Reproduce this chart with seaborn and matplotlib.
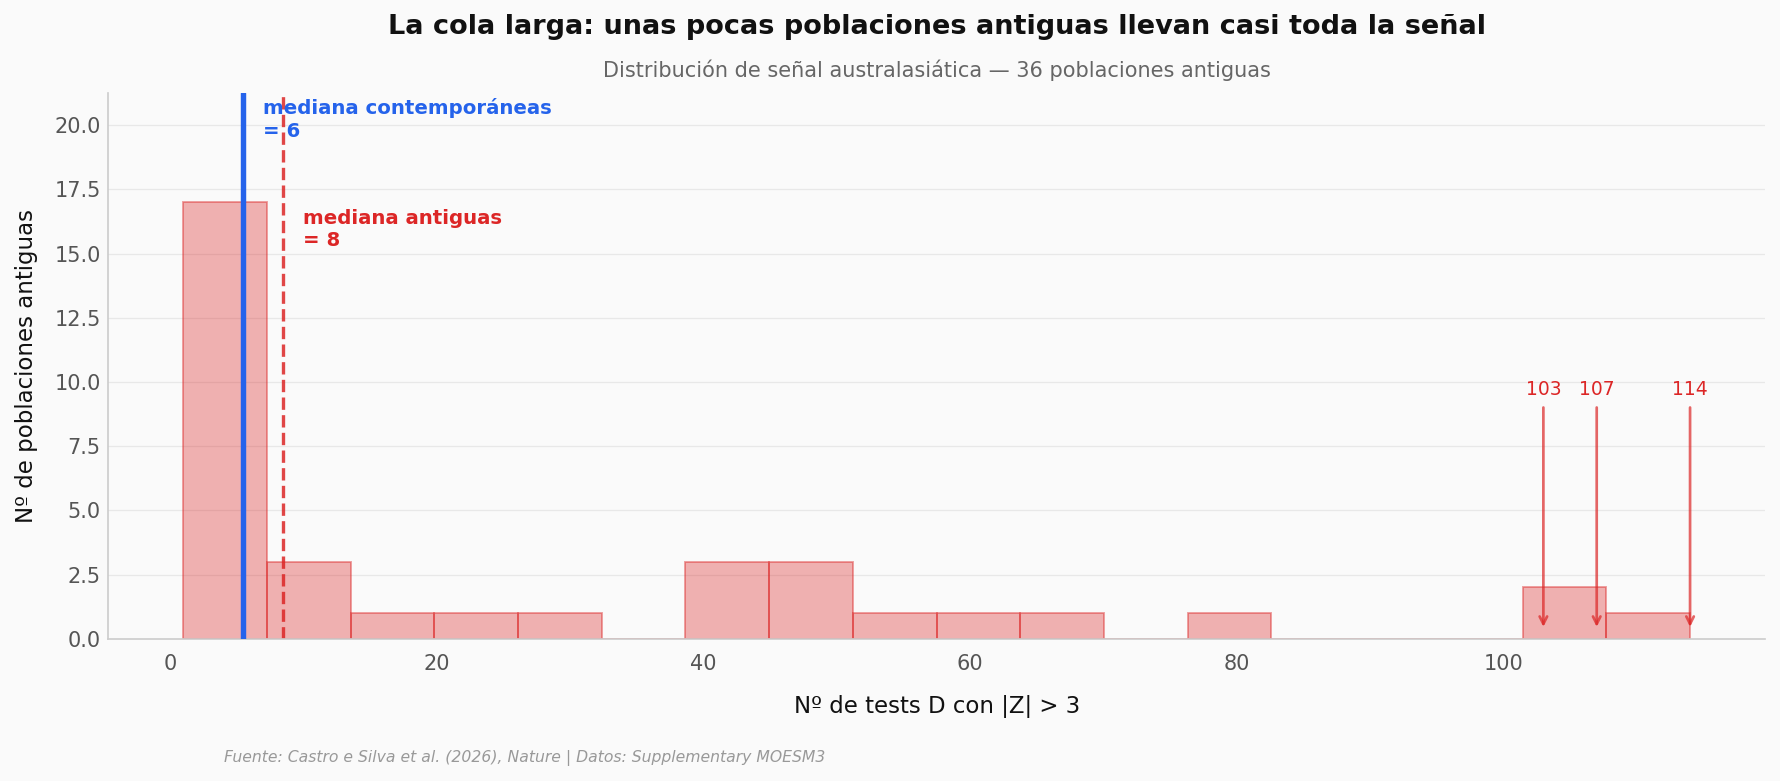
import numpy as np
import pandas as pd
import matplotlib
matplotlib.use("Agg")
import matplotlib.pyplot as plt
import matplotlib.colors as mcolors
import seaborn as sns

# Data: number of D tests with |Z|>3 per ancient population (36 populations)
ancient_counts = [1, 1, 1, 2, 2, 2, 3, 3, 3, 4, 4, 5, 5, 6, 6, 7, 7,
                  8, 9, 12,
                  16, 23, 29,
                  40, 42, 44, 46, 48, 50,
                  54, 60, 67, 79,
                  103, 107, 114]
median_contemporary = 5.5
top_outliers = [103, 107, 114]
n_bins = 18

RED = "#dc2626"
BLUE = "#2563eb"
BG = "#fafafa"

sns.set_style("white")
plt.rcParams["font.family"] = ["DejaVu Sans"]

fig = plt.figure(figsize=(1780 / 150, 781 / 150), dpi=150, facecolor=BG)
ax = fig.add_axes([0.0606, 0.182, 0.9312, 0.699])
ax.set_facecolor(BG)

df = pd.DataFrame({"tests": ancient_counts})
sns.histplot(data=df, x="tests", bins=n_bins, color=RED, alpha=0.35,
             edgecolor=mcolors.to_rgba(RED, 0.45), linewidth=0.9, ax=ax, zorder=2)

median_ancient = float(np.median(ancient_counts))
ax.axvline(median_contemporary, color=BLUE, lw=2.6, zorder=3)
ax.axvline(median_ancient, color=RED, lw=1.6, ls="--", alpha=0.85, zorder=1)

ax.set_ylim(0, max(np.histogram(ancient_counts, bins=n_bins)[0]) * 1.25)

ax.text(median_contemporary + 1.5, 21.05,
        f"mediana contemporáneas\n= {median_contemporary:.0f}",
        color=BLUE, fontsize=9.5, fontweight="bold", va="top", ha="left",
        linespacing=1.25)
ax.text(median_ancient + 1.5, 16.75,
        f"mediana antiguas\n= {median_ancient:.0f}",
        color=RED, fontsize=9.5, fontweight="bold", va="top", ha="left",
        linespacing=1.25)

for v in top_outliers:
    ax.annotate(f"{v}", xy=(v, 0.3), xytext=(v, 9.35),
                ha="center", va="bottom", color=RED, fontsize=9,
                arrowprops=dict(arrowstyle="->", color=RED, lw=1.3, alpha=0.7))

ax.grid(axis="y", color="#e8e8e8", lw=0.6, zorder=0)
ax.set_axisbelow(True)
for s in ["top", "right"]:
    ax.spines[s].set_visible(False)
for s in ["left", "bottom"]:
    ax.spines[s].set_color("#cccccc")
    ax.spines[s].set_linewidth(0.8)

ax.tick_params(axis="x", colors="#555555", labelsize=10, length=4, width=0.8,
               color="#555555")
ax.tick_params(axis="y", colors="#555555", labelsize=10, length=0)

ax.set_xlabel("Nº de tests D con |Z| > 3", fontsize=11, color="#111111", labelpad=10)
ax.set_ylabel("Nº de poblaciones antiguas", fontsize=11, color="#111111", labelpad=8)

cx = 0.0606 + 0.9312 / 2
fig.text(cx, 0.965, "La cola larga: unas pocas poblaciones antiguas llevan casi toda la señal",
         ha="center", va="center", fontsize=13, fontweight="bold", color="#111111")
fig.text(cx, 0.91, "Distribución de señal australasiática — 36 poblaciones antiguas",
         ha="center", va="center", fontsize=10, color="#666666")
fig.text(0.126, 0.029,
         "Fuente: Castro e Silva et al. (2026), Nature | Datos: Supplementary MOESM3",
         ha="left", va="center", fontsize=7.5, style="italic", color="#999999")

fig.savefig("out.png", dpi=150, facecolor=BG)
